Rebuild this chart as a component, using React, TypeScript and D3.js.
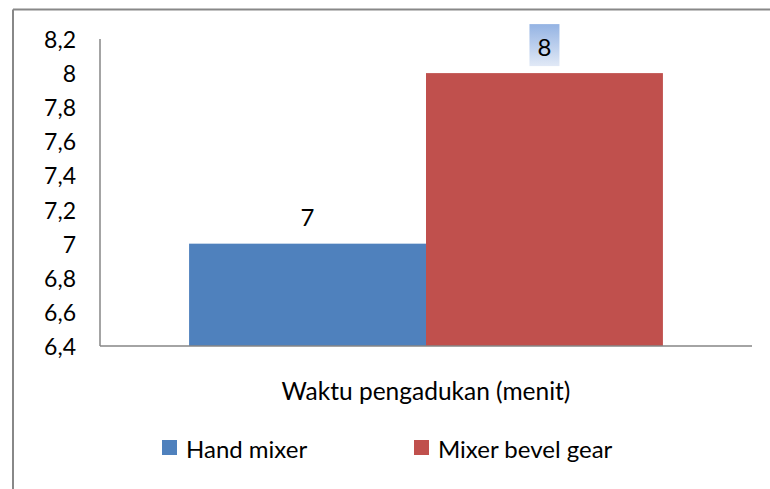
import React from 'react';
import * as d3 from 'd3';

const categories = ['Waktu pengadukan (menit)'];
const seriesNames = ['Hand mixer', 'Mixer bevel gear'];
const seriesValues = [7, 8];
const seriesColors = ['#4f81bd', '#c0504d'];
const yTicks = [6.4, 6.6, 6.8, 7, 7.2, 7.4, 7.6, 7.8, 8, 8.2];

const width = 770;
const height = 489;
const margin = { top: 39, right: 18, bottom: 143, left: 100 };
const font = 'Lato, "Open Sans", sans-serif';

const fmt = d3.formatLocale({ decimal: ',', thousands: '.', grouping: [3], currency: ['', ''] }).format('~g');

export default function App() {
  const x0 = d3.scaleBand().domain(categories)
    .range([margin.left, width - margin.right])
    .paddingInner(0).paddingOuter(0.188);
  const x1 = d3.scaleBand().domain(seriesNames).range([0, x0.bandwidth()]);
  const y = d3.scaleLinear().domain([6.4, 8.2]).range([height - margin.bottom, margin.top]);
  const y0 = y(6.4);

  return (
    <svg width={width} height={height} style={{ position: 'absolute', left: 0, top: 0, background: '#fff' }}
      fontFamily={font}>
      <defs>
        <linearGradient id="lblGrad" x1="0" y1="0" x2="0" y2="1">
          <stop offset="0%" stopColor="#94b3e3" />
          <stop offset="100%" stopColor="#e1e9f6" />
        </linearGradient>
      </defs>
      {/* outer frame */}
      <line x1={13} x2={width} y1={9.5} y2={9.5} stroke="#888" strokeWidth={2} />
      <line x1={13} x2={13} y1={9.5} y2={height} stroke="#888" strokeWidth={2} />

      {/* bars */}
      {categories.map(c => seriesNames.map((s, i) => {
        const bx = x0(c)! + x1(s)!;
        const by = y(seriesValues[i]);
        return (
          <g key={c + s}>
            <rect x={bx} y={by} width={x1.bandwidth()} height={y0 - by} fill={seriesColors[i]} />
            {i === 1 && (
              <rect x={bx + x1.bandwidth() / 2 - 15} y={by - 49} width={30} height={42} fill="url(#lblGrad)" />
            )}
            <text x={bx + x1.bandwidth() / 2} y={by - 27} textAnchor="middle" dominantBaseline="central"
              fontSize={24} fill="#000">{fmt(seriesValues[i])}</text>
          </g>
        );
      }))}

      {/* axes */}
      <line x1={margin.left} x2={margin.left} y1={y(8.2)} y2={y0} stroke="#868686" strokeWidth={1.5} />
      <line x1={margin.left} x2={width - margin.right} y1={y0} y2={y0} stroke="#868686" strokeWidth={1.5} />
      {yTicks.map(t => (
        <text key={t} x={76} y={y(t)} textAnchor="end" dominantBaseline="central" fontSize={23} fill="#000">
          {fmt(t)}
        </text>
      ))}
      {categories.map(c => (
        <text key={c} x={x0(c)! + x0.bandwidth() / 2} y={390} textAnchor="middle" dominantBaseline="central"
          fontSize={24.5} fill="#000">{c}</text>
      ))}

      {/* legend */}
      {seriesNames.map((s, i) => {
        const lx = [162, 414][i];
        return (
          <g key={s}>
            <rect x={lx} y={440} width={15} height={15} fill={seriesColors[i]} />
            <text x={lx + 24} y={448} dominantBaseline="central" fontSize={24} fill="#000">{s}</text>
          </g>
        );
      })}
    </svg>
  );
}
